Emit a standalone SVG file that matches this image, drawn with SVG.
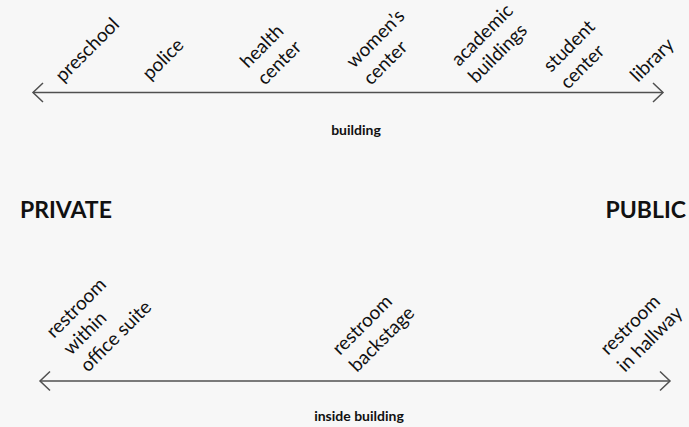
<svg xmlns="http://www.w3.org/2000/svg" width="689" height="427" viewBox="0 0 689 427">
<style>
.lbl{font-family:Lato,"Liberation Sans",sans-serif;font-size:19px;fill:#111}
.cap{font-family:Lato,"Liberation Sans",sans-serif;font-size:14px;font-weight:bold;fill:#111;text-anchor:middle}
.big{font-family:Lato,"Liberation Sans",sans-serif;font-size:23px;font-weight:bold;fill:#111}
.axis{stroke:#505050;stroke-width:1.5;fill:none}
</style>
<defs>
<marker id="chev" markerUnits="userSpaceOnUse" markerWidth="24" markerHeight="24" refX="12" refY="12" orient="auto-start-reverse" viewBox="0 0 24 24">
<path d="M2,2.5 L12,12 L2,21.5" fill="none" stroke="#505050" stroke-width="1.5"/>
</marker>
</defs>
<rect width="689" height="427" fill="#f7f7f7"/>
<g id="connectors">
<line class="axis" x1="33" y1="92.5" x2="663" y2="92.5" marker-start="url(#chev)" marker-end="url(#chev)"/>
<line class="axis" x1="40" y1="381" x2="670" y2="381" marker-start="url(#chev)" marker-end="url(#chev)"/>
</g>
<g id="preschool"><text class="lbl" transform="translate(63,83) rotate(-45)">preschool</text></g>
<g id="police"><text class="lbl" transform="translate(150,81) rotate(-45)">police</text></g>
<g id="health-center"><text class="lbl" transform="translate(248,69) rotate(-45)"><tspan x="0" y="0">health</tspan><tspan x="0" y="24">center</tspan></text></g>
<g id="womens-center"><text class="lbl" transform="translate(354,69) rotate(-45)"><tspan x="0" y="0">women’s</tspan><tspan x="0" y="24">center</tspan></text></g>
<g id="academic-buildings"><text class="lbl" transform="translate(459,67) rotate(-45)"><tspan x="0" y="0">academic</tspan><tspan x="0" y="24">buildings</tspan></text></g>
<g id="student-center"><text class="lbl" transform="translate(551,73) rotate(-45)"><tspan x="0" y="0">student</tspan><tspan x="0" y="24">center</tspan></text></g>
<g id="library"><text class="lbl" transform="translate(638,83) rotate(-45)">library</text></g>
<g id="building-caption"><text class="cap" x="356" y="135">building</text></g>
<g id="private"><text class="big" x="20" y="218">PRIVATE</text></g>
<g id="public"><text class="big" x="686" y="218" text-anchor="end">PUBLIC</text></g>
<g id="restroom-office"><text class="lbl" transform="translate(54,339) rotate(-45)"><tspan x="0" y="0">restroom</tspan><tspan x="0" y="24">within</tspan><tspan x="0" y="48">office suite</tspan></text></g>
<g id="restroom-backstage"><text class="lbl" transform="translate(340,356) rotate(-45)"><tspan x="0" y="0">restroom</tspan><tspan x="0" y="24">backstage</tspan></text></g>
<g id="restroom-hallway"><text class="lbl" transform="translate(608,356) rotate(-45)"><tspan x="0" y="0">restroom</tspan><tspan x="0" y="24">in hallway</tspan></text></g>
<g id="inside-building-caption"><text class="cap" x="359" y="421">inside building</text></g>
</svg>
